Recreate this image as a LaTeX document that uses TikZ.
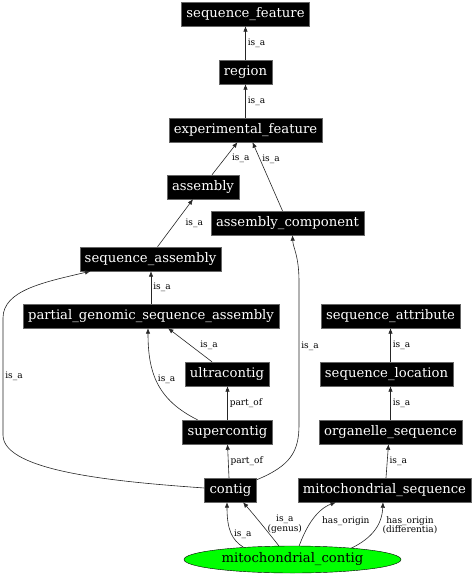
\documentclass[tikz,border=0pt]{standalone}
\usepackage{fontspec}
\setmainfont{DejaVu Serif}
\usetikzlibrary{arrows.meta,shapes.geometric}

\begin{document}
\begin{tikzpicture}[>={Latex[length=5.5pt,width=4.5pt]}, x=1pt, y=-1pt,
  term/.style={fill=black, draw=black!60, text=white, font=\fontsize{13.2}{15}\selectfont,
    minimum height=24pt, inner xsep=5pt, inner ysep=0pt},
  rel/.style={->, black!85, line width=.6pt},
  lbl/.style={font=\fontsize{9}{8.5}\selectfont, inner sep=2pt, align=center, text=black}]
\useasboundingbox (0,0) rectangle (475,576);
\foreach \n/\x/\y/\t in {seqfeature/245.5/14/sequence\_feature,
    region/245.5/72/region,
    expfeature/245.5/130/experimental\_feature,
    assembly/203/187/assembly,
    asmcomp/287.5/223/assembly\_component,
    seqasm/150.5/259/sequence\_assembly,
    pgsa/151/316/partial\_genomic\_sequence\_assembly,
    seqattr/390.5/316/sequence\_attribute,
    ultra/227/374/ultracontig,
    seqloc/386.5/374/sequence\_location,
    super/227.5/432/supercontig,
    orgseq/390.5/432/organelle\_sequence,
    contig/230.5/490/contig,
    mitoseq/384.5/490/mitochondrial\_sequence}
{
    \node[term] (\n) at (\x,\y) {\t};
}
\node[ellipse, fill=green, draw=black, minimum width=217pt, minimum height=27pt, inner sep=0pt,
  font=\fontsize{13.2}{15}\selectfont] (mitocontig) at (292.5,559.5) {mitochondrial\_contig};
% plain is_a steps
\foreach \a/\b in {region/seqfeature, expfeature/region, pgsa/seqasm}
{
    \draw[rel] (\a.north) -- node[lbl,right]{is\_a} (\a.north |- \b.south);
}
\draw[rel] ([xshift=9pt]assembly.north) -- node[lbl,right=5pt]{is\_a} ([xshift=-8pt]expfeature.south);
\draw[rel] ([xshift=-5pt]asmcomp.north) -- node[lbl,right,pos=.75]{is\_a} ([xshift=7pt]expfeature.south);
\draw[rel] ([xshift=7pt]seqasm.north) -- node[lbl,right=8pt]{is\_a} ([xshift=-10pt]assembly.south);
\draw[rel] ([xshift=-15pt]ultra.north) -- node[lbl,right=8pt]{is\_a} ([xshift=17pt]pgsa.south);
\draw[rel] ([xshift=-30pt]super.north) .. controls +(-40,-20) and +(0,45) .. node[lbl,right,pos=.55]{is\_a} ([xshift=-3pt]pgsa.south);
\draw[rel] (super.north) -- node[lbl,right]{part\_of} (super.north |- ultra.south);
\draw[rel] ([xshift=-1.5pt]contig.north) -- node[lbl,right]{part\_of} (super.south);
% long bends round the left and right
\draw[rel] ([yshift=2pt]contig.west) .. controls (120,482) and (3,472) .. (3,435)
  -- node[lbl,right]{is\_a} (3,318) .. controls (3,290) and (45,282) .. ([xshift=-60pt]seqasm.south);
\draw[rel] ([yshift=-2pt]contig.north east) .. controls (290,466) and (299,452) .. (299,425)
  -- node[lbl,right,pos=.55]{is\_a} (299,282) .. controls (299,255) and (293,248) .. ([xshift=5pt]asmcomp.south);
% right column
\draw[rel] (seqloc.north -| seqattr.south) -- node[lbl,right]{is\_a} (seqattr.south);
\draw[rel] (orgseq.north) -- node[lbl,right]{is\_a} (orgseq.north |- seqloc.south);
\draw[rel] ([xshift=1.5pt]mitoseq.north) -- node[lbl,right]{is\_a} ([xshift=-2pt]orgseq.south);
% from mitochondrial_contig
\draw[rel] (mitocontig.166) .. controls (232,540) and (227,530) .. node[lbl,right,pos=.45]{is\_a} ([xshift=-3.5pt]contig.south);
\draw[rel] (mitocontig.135) .. controls (268,532) and (255,516) .. node[lbl,right=4pt]{is\_a\\(genus)} ([xshift=12.5pt]contig.south);
\draw[rel] (mitocontig.64) .. controls (305,530) and (315,510) .. node[lbl,right=8pt]{has\_origin} ([xshift=-48.5pt]mitoseq.south);
\draw[rel] (mitocontig.11) .. controls (372,538) and (382,525) .. node[lbl,right=3pt,pos=.6]{has\_origin\\(differentia)} ([xshift=-1.5pt]mitoseq.south);

\end{tikzpicture}
\end{document}
